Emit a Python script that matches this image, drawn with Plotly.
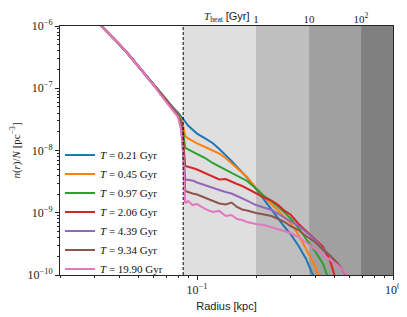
import plotly.graph_objects as go

# ---------------- data ----------------
radius_kpc = [0.03, 0.035, 0.04, 0.045, 0.05, 0.055, 0.06, 0.065, 0.07, 0.075,
              0.08, 0.083, 0.085, 0.087, 0.09, 0.095, 0.1, 0.11, 0.12, 0.13,
              0.14, 0.15, 0.16, 0.17, 0.18, 0.2, 0.22, 0.24, 0.26, 0.28,
              0.3, 0.33, 0.36, 0.4, 0.44, 0.48, 0.52, 0.56, 0.6, 0.65]

series_labels = ["0.21", "0.45", "0.97", "2.06", "4.39", "9.34", "19.90"]
series_colors = ["#1f77b4", "#ff7f0e", "#2ca02c", "#d62728", "#9467bd", "#8c564b", "#e377c2"]

n_T021 = [1.29e-6, 8.01e-7, 5.14e-7, 3.42e-7, 2.28e-7, 1.60e-7, 1.13e-7, 8.39e-8, 6.35e-8, 5.00e-8,
          4.08e-8, 3.58e-8, 3.27e-8, 2.92e-8, 2.52e-8, 2.13e-8, 1.87e-8, 1.56e-8, 1.32e-8, 1.06e-8,
          8.47e-9, 6.78e-9, 5.43e-9, 4.51e-9, 3.68e-9, 2.41e-9, 1.60e-9, 1.11e-9, 7.94e-10, 5.90e-10,
          4.56e-10, 2.92e-10, 1.81e-10, 8.31e-11]
n_T045 = [1.29e-6, 8.01e-7, 5.14e-7, 3.42e-7, 2.28e-7, 1.60e-7, 1.13e-7, 8.39e-8, 6.35e-8, 4.91e-8,
          3.93e-8, 3.21e-8, 2.47e-8, 1.71e-8, 1.56e-8, 1.40e-8, 1.30e-8, 1.14e-8, 1.02e-8, 8.95e-9,
          7.58e-9, 6.30e-9, 5.33e-9, 4.51e-9, 3.75e-9, 2.50e-9, 1.79e-9, 1.38e-9, 1.07e-9, 8.55e-10,
          6.84e-10, 4.39e-10, 2.62e-10, 1.40e-10, 5.74e-11]
n_T097 = [1.29e-6, 8.01e-7, 5.14e-7, 3.42e-7, 2.28e-7, 1.60e-7, 1.13e-7, 8.39e-8, 6.35e-8, 4.82e-8,
          3.86e-8, 2.98e-8, 1.98e-8, 1.10e-8, 1.04e-8, 9.64e-9, 8.95e-9, 7.58e-9, 6.30e-9, 5.53e-9,
          4.95e-9, 4.43e-9, 3.97e-9, 3.61e-9, 3.24e-9, 2.45e-9, 1.86e-9, 1.54e-9, 1.24e-9, 1.01e-9,
          8.09e-10, 5.69e-10, 3.79e-10, 2.43e-10, 1.50e-10, 6.91e-11]
n_T206 = [1.29e-6, 8.01e-7, 5.14e-7, 3.42e-7, 2.28e-7, 1.60e-7, 1.13e-7, 8.39e-8, 6.35e-8, 4.82e-8,
          3.79e-8, 2.77e-8, 1.47e-8, 5.64e-9, 5.53e-9, 5.23e-9, 4.95e-9, 4.35e-9, 3.82e-9, 3.42e-9,
          3.48e-9, 3.12e-9, 2.90e-9, 2.69e-9, 2.45e-9, 2.04e-9, 1.76e-9, 1.57e-9, 1.33e-9, 1.07e-9,
          9.37e-10, 6.60e-10, 5.09e-10, 3.79e-10, 2.82e-10, 1.62e-10, 6.91e-11]
n_T439 = [1.29e-6, 8.01e-7, 5.14e-7, 3.42e-7, 2.28e-7, 1.60e-7, 1.13e-7, 8.39e-8, 6.35e-8, 4.73e-8,
          3.72e-8, 2.57e-8, 1.18e-8, 3.42e-9, 3.36e-9, 3.30e-9, 3.06e-9, 2.74e-9, 2.50e-9, 2.32e-9,
          2.15e-9, 2.04e-9, 1.86e-9, 1.73e-9, 1.57e-9, 1.33e-9, 1.21e-9, 1.11e-9, 9.55e-10, 8.39e-10,
          7.37e-10, 6.12e-10, 4.91e-10, 3.65e-10, 2.62e-10, 2.02e-10, 1.50e-10, 1.12e-10, 8.01e-11]
n_T934 = [1.29e-6, 8.01e-7, 5.14e-7, 3.42e-7, 2.28e-7, 1.60e-7, 1.13e-7, 8.39e-8, 6.35e-8, 4.64e-8,
          3.65e-8, 2.38e-8, 1.02e-8, 2.24e-9, 2.15e-9, 2.04e-9, 1.96e-9, 1.73e-9, 1.54e-9, 1.41e-9,
          1.36e-9, 1.46e-9, 1.24e-9, 1.13e-9, 1.09e-9, 9.91e-10, 9.37e-10, 8.87e-10, 7.94e-10, 7.10e-10,
          6.12e-10, 5.28e-10, 4.23e-10, 3.39e-10, 2.52e-10, 2.02e-10, 1.56e-10, 1.16e-10, 8.62e-11]
n_T1990 = [1.29e-6, 8.01e-7, 5.14e-7, 3.42e-7, 2.28e-7, 1.60e-7, 1.13e-7, 7.94e-8, 6.01e-8, 4.47e-8,
           3.45e-8, 2.13e-8, 8.47e-9, 1.43e-9, 1.54e-9, 1.33e-9, 1.38e-9, 1.15e-9, 1.03e-9, 1.07e-9,
           8.87e-10, 9.20e-10, 7.94e-10, 7.65e-10, 7.10e-10, 6.60e-10, 6.36e-10, 5.90e-10, 5.48e-10, 5.09e-10,
           4.73e-10, 4.08e-10, 3.39e-10, 2.62e-10, 2.10e-10, 1.74e-10, 1.45e-10, 1.16e-10, 8.62e-11]

series_values = [n_T021, n_T045, n_T097, n_T206, n_T439, n_T934, n_T1990]

r_cut_kpc = 0.085                       # dashed vertical line
heat_radius_kpc = [0.2, 0.373, 0.687]   # radii where T_heat = 1, 10, 100 Gyr
heat_tick_text = ["1", "10", "10<sup>2</sup>"]
band_edges = [r_cut_kpc, 0.2, 0.373, 0.687, 1.0]
band_colors = ["#dfdfdf", "#bfbfbf", "#a0a0a0", "#808080"]

y_tick_vals = [1e-10, 1e-9, 1e-8, 1e-7, 1e-6]
y_tick_text = ["10<sup>−10</sup>", "10<sup>−9</sup>", "10<sup>−8</sup>", "10<sup>−7</sup>", "10<sup>−6</sup>"]
x_tick_vals = [0.1, 1.0]
x_tick_text = ["10<sup>−1</sup>", "10<sup>0</sup>"]

# ---------------- figure ----------------
SERIF = "Liberation Serif, DejaVu Serif, serif"
SANS = "Liberation Sans, Arial, sans-serif"
AX = "#262626"

fig = go.Figure()

for lab, col, vals in zip(series_labels, series_colors, series_values):
    fig.add_trace(go.Scatter(
        x=radius_kpc[:len(vals)], y=vals, mode="lines",
        line=dict(color=col, width=2),
        name="<i>T</i> = " + lab + " Gyr",
    ))

# invisible trace to anchor top axis
fig.add_trace(go.Scatter(x=heat_radius_kpc, y=[None] * len(heat_radius_kpc),
                         xaxis="x2", yaxis="y", showlegend=False, hoverinfo="skip"))

shapes = []
for i, colr in enumerate(band_colors):
    shapes.append(dict(type="rect", xref="x", yref="paper",
                       x0=band_edges[i], x1=band_edges[i + 1], y0=0, y1=1,
                       fillcolor=colr, line=dict(width=0), layer="below"))
shapes.append(dict(type="line", xref="x", yref="paper", x0=r_cut_kpc, x1=r_cut_kpc,
                   y0=0, y1=1, line=dict(color="black", width=1, dash="3px,2px"), layer="above"))

y_minor = [m * 10.0 ** e for e in range(-10, -6) for m in range(2, 10)]
x_minor = [m * 10.0 ** e for e in range(-2, 0) for m in range(2, 10)]

# the page body adds an 8px margin, so the figure is sized/placed to compensate
fig.update_layout(
    width=399, height=309,
    margin=dict(l=52, r=14, t=18, b=42, autoexpand=False),
    paper_bgcolor="white", plot_bgcolor="white",
    shapes=shapes,
    showlegend=True,
    legend=dict(x=0.0, y=0.253, xanchor="left", yanchor="middle",
                bgcolor="rgba(0,0,0,0)", borderwidth=0,
                font=dict(family=SERIF, size=11, color="#111")),
    xaxis=dict(type="log", range=[-1.699, 0], showgrid=False, zeroline=False,
               automargin=False,
               tickmode="array", tickvals=x_tick_vals, ticktext=x_tick_text,
               ticks="outside", ticklen=4, tickcolor=AX, tickwidth=1,
               minor=dict(tickmode="array", tickvals=x_minor, ticks="outside", ticklen=2,
                          tickcolor=AX, showgrid=False),
               showline=True, linecolor=AX, linewidth=1, mirror=True,
               tickfont=dict(family=SERIF, size=12, color="#222"),
               title=dict(text="Radius [kpc]", font=dict(family=SANS, size=11, color="#222"),
                          standoff=5)),
    xaxis2=dict(type="log", range=[-1.699, 0], overlaying="x", side="top",
                automargin=False,
                showgrid=False, zeroline=False, tickmode="array",
                tickvals=heat_radius_kpc, ticktext=heat_tick_text, ticks="",
                showline=False,
                tickfont=dict(family=SERIF, size=11, color="#222")),
    yaxis=dict(type="log", range=[-10, -6], showgrid=False, zeroline=False,
               automargin=False,
               tickmode="array", tickvals=y_tick_vals, ticktext=y_tick_text,
               ticks="outside", ticklen=4, tickcolor=AX, tickwidth=1,
               minor=dict(tickmode="array", tickvals=y_minor, ticks="outside", ticklen=2,
                          tickcolor=AX, showgrid=False),
               showline=True, linecolor=AX, linewidth=1, mirror=True,
               tickfont=dict(family=SERIF, size=12, color="#222"),
               title=dict(text="<i>n</i>(<i>r</i>)/<i>N</i> [pc<sup>−3</sup>]",
                          font=dict(family=SERIF, size=11, color="#222"), standoff=6)),
    annotations=[dict(xref="paper", yref="paper", x=0.5, y=1.0723, xanchor="center",
                      yanchor="top", showarrow=False,
                      text="<i>T</i><sub>heat</sub> <span style='font-family:Liberation Sans'>[Gyr]</span>",
                      font=dict(family=SERIF, size=11, color="#222"))],
)

fig.write_html("out.html")
